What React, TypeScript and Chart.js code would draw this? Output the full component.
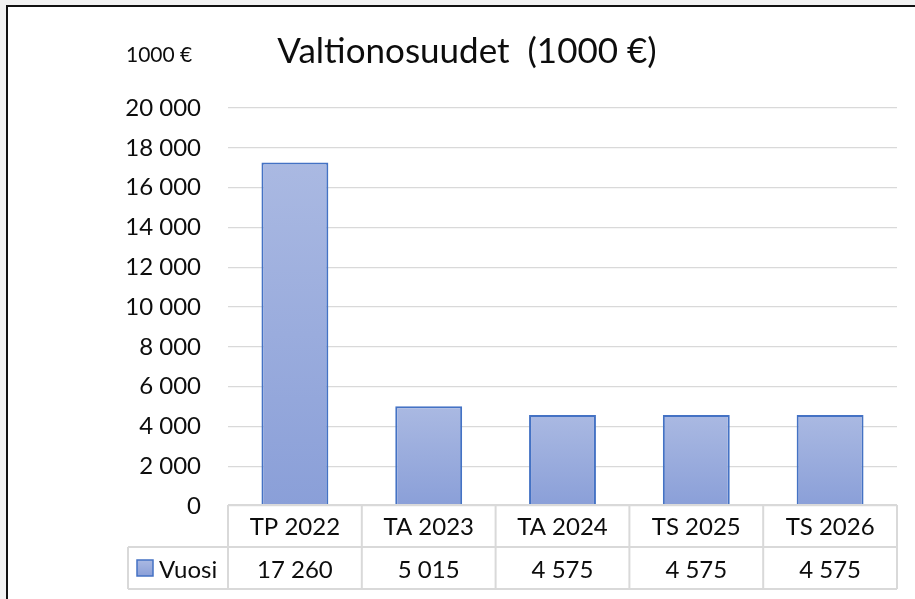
import React, { useEffect, useRef } from "react";
import { Chart, registerables } from "chart.js";

Chart.register(...registerables);

const categories = ["TP 2022", "TA 2023", "TA 2024", "TS 2025", "TS 2026"];
const values = [17260, 5015, 4575, 4575, 4575];
const seriesName = "Vuosi";
const chartTitle = "Valtionosuudet  (1000 €)";
const unitLabel = "1000 €";
const yMin = 0;
const yMax = 20000;
const yStep = 2000;

const FONT = "Lato, 'Open Sans', sans-serif";
const TEXT = "#0d0d0d";
const GRID = "#d9d9d9";
const BAR_TOP = "#aab9e2";
const BAR_BOTTOM = "#8a9fd8";
const BAR_BORDER = "#4472c4";

const fmt = (v: number) => String(v).replace(/\B(?=(\d{3})+(?!\d))/g, " ");

function barFill(c: any) {
  const chart = c.chart;
  if (!chart.chartArea || c.raw === undefined) return "#99abdc";
  const ys = chart.scales.y;
  const top = ys.getPixelForValue(c.raw);
  const bottom = ys.getPixelForValue(0);
  const g = chart.ctx.createLinearGradient(0, top, 0, bottom);
  g.addColorStop(0, BAR_TOP);
  g.addColorStop(1, BAR_BOTTOM);
  return g;
}

const decorPlugin = {
  id: "decor",
  afterDatasetsDraw(chart: any) {
    const { ctx, chartArea } = chart;
    const xs = chart.scales.x;
    const n = categories.length;
    const left = chartArea.left;
    const right = chartArea.right;
    const colW = (right - left) / n;
    const rowH = 42;
    const top = chartArea.bottom - 1;
    const legendLeft = left - 100;

    ctx.save();
    ctx.strokeStyle = GRID;
    ctx.lineWidth = 2;
    const line = (x1: number, y1: number, x2: number, y2: number) => {
      ctx.beginPath();
      ctx.moveTo(x1, y1);
      ctx.lineTo(x2, y2);
      ctx.stroke();
    };
    line(left, top, right, top);
    line(legendLeft, top + rowH, right, top + rowH);
    line(legendLeft, top + 2 * rowH, right, top + 2 * rowH);
    for (let i = 0; i <= n; i++) {
      const x = left + i * colW;
      line(x, top, x, top + 2 * rowH);
    }
    line(legendLeft, top + rowH, legendLeft, top + 2 * rowH);

    ctx.fillStyle = TEXT;
    ctx.font = `24px ${FONT}`;
    ctx.textAlign = "center";
    ctx.textBaseline = "middle";
    categories.forEach((c, i) => {
      ctx.fillText(c, xs.getPixelForValue(i), top + rowH / 2 + 1);
    });
    values.forEach((v, i) => {
      ctx.fillText(fmt(v), xs.getPixelForValue(i), top + rowH * 1.5 + 2);
    });

    // legend key
    const kx = legendLeft + 9;
    const ky = top + rowH + 13;
    const g = ctx.createLinearGradient(0, ky, 0, ky + 16);
    g.addColorStop(0, BAR_TOP);
    g.addColorStop(1, BAR_BOTTOM);
    ctx.fillStyle = g;
    ctx.fillRect(kx, ky, 16, 16);
    ctx.strokeStyle = BAR_BORDER;
    ctx.lineWidth = 1.5;
    ctx.strokeRect(kx, ky, 16, 16);
    ctx.fillStyle = TEXT;
    ctx.textAlign = "left";
    ctx.fillText(seriesName, kx + 22, top + rowH * 1.5 + 2);

    // title and unit
    ctx.textBaseline = "alphabetic";
    ctx.font = `35px ${FONT}`;
    ctx.textAlign = "center";
    ctx.fillText(chartTitle, 467, 63);
    ctx.font = `21px ${FONT}`;
    ctx.textAlign = "left";
    ctx.fillText(unitLabel, 126, 62);
    ctx.restore();
  },
};

export default function App() {
  const ref = useRef<HTMLCanvasElement | null>(null);

  useEffect(() => {
    if (!ref.current) return;
    const chart = new Chart(ref.current, {
      type: "bar",
      data: {
        labels: categories,
        datasets: [
          {
            label: seriesName,
            data: values,
            backgroundColor: barFill as any,
            borderColor: BAR_BORDER,
            borderWidth: 2,
            barPercentage: 0.5,
            categoryPercentage: 1,
          },
        ],
      },
      options: {
        responsive: false,
        animation: false,
        devicePixelRatio: 1,
        layout: { padding: { top: 108, right: 18, bottom: 93, left: 0 } },
        plugins: {
          legend: { display: false },
          title: { display: false },
          tooltip: { enabled: false },
        },
        scales: {
          x: { display: false },
          y: {
            min: yMin,
            max: yMax,
            afterFit: (s: any) => {
              s.width = 228;
            },
            border: { display: false },
            grid: { color: GRID, lineWidth: 1.3, drawTicks: false },
            ticks: {
              stepSize: yStep,
              padding: 27,
              color: TEXT,
              font: { family: FONT, size: 24 },
              callback: (v: any) => fmt(Number(v)),
            },
          },
        },
      },
      plugins: [decorPlugin],
    });
    const fonts: any = (document as any).fonts;
    if (fonts && fonts.load) {
      Promise.all([fonts.load(`24px Lato`), fonts.load(`35px Lato`)]).then(() => chart.update());
    }
    return () => chart.destroy();
  }, []);

  return (
    <div
      style={{
        position: "fixed",
        left: 0,
        top: 0,
        width: 915,
        height: 599,
        background: "#f2f2f2",
        overflow: "hidden",
      }}
    >
      <div
        style={{
          position: "absolute",
          left: 6,
          top: 5,
          width: 1000,
          height: 800,
          border: "2px solid #111",
          background: "#fff",
        }}
      />
      <canvas
        ref={ref}
        width={915}
        height={599}
        style={{ position: "absolute", left: 0, top: 0, width: 915, height: 599 }}
      />
    </div>
  );
}
